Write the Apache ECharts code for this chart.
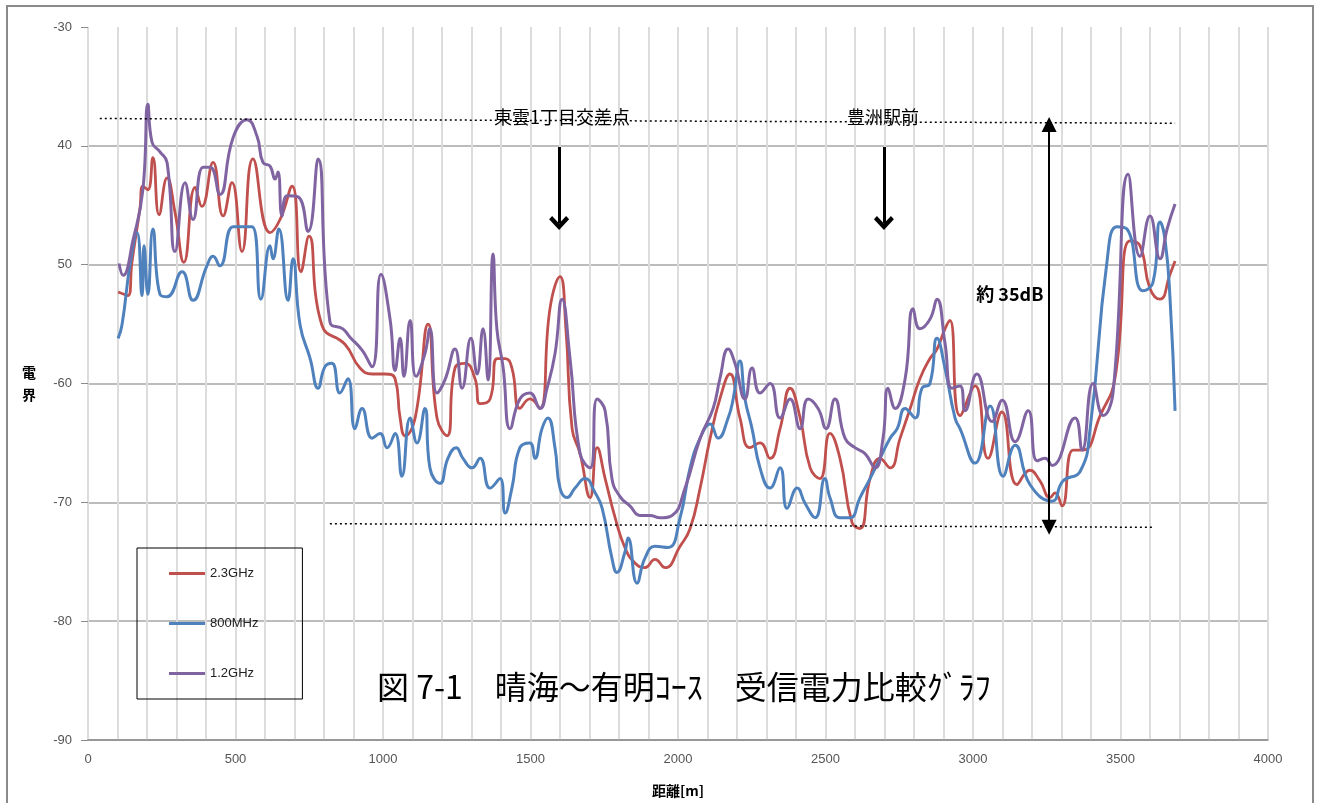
<!DOCTYPE html>
<html><head><meta charset="utf-8">
<script src="https://cdn.jsdelivr.net/npm/echarts@6/dist/echarts.min.js"></script>
<style>html,body{margin:0;padding:0;background:#fff}#c{width:1319px;height:803px}</style>
</head><body><div id="c"></div>
<script>
// Distance [m] / received level [dB] pairs
const s23 = [[102,-52.3],[136,-52.6],[149,-49.8],[176,-45.3],[186,-43.4],[203,-43.7],[220,-41],[241,-45.8],[268,-42.7],[295,-45.6],[325,-49.8],[363,-43.5],[386,-45.1],[424,-41.4],[458,-45.9],[488,-43.1],[522,-48.9],[559,-41.1],[617,-47.3],[651,-46.2],[692,-43.4],[722,-50.6],[749,-47.6],[793,-55.1],[871,-56.7],[922,-58.7],[963,-59.2],[1007,-59.2],[1041,-59.6],[1058,-62.9],[1075,-64.4],[1109,-62.9],[1153,-55],[1183,-62.9],[1217,-64.4],[1244,-58.7],[1278,-58.3],[1312,-59.6],[1329,-61.7],[1363,-61.3],[1387,-57.9],[1414,-57.9],[1437,-58.7],[1464,-62.1],[1498,-61.3],[1532,-62.1],[1566,-53.7],[1600,-51],[1620,-55.4],[1641,-63.8],[1668,-65.9],[1702,-69.6],[1726,-65.4],[1753,-68],[1787,-71.3],[1820,-73.8],[1854,-75.1],[1888,-75.5],[1922,-74.8],[1956,-75.5],[2007,-73.7],[2041,-72.2],[2075,-68.8],[2109,-64.6],[2142,-61.3],[2176,-59.2],[2210,-62.9],[2244,-65.4],[2278,-65],[2312,-66.3],[2346,-63.8],[2380,-60.4],[2414,-62.9],[2448,-67.1],[2481,-68],[2515,-64.2],[2549,-66.3],[2590,-71.7],[2617,-72.2],[2651,-68],[2685,-66.3],[2719,-67.1],[2753,-64.6],[2787,-62.1],[2820,-59.6],[2854,-57.9],[2878,-57.1],[2905,-55.4],[2922,-54.7],[2956,-62.7],[3007,-60.2],[3051,-66.3],[3098,-62.4],[3149,-68.5],[3193,-67.3],[3227,-68.2],[3261,-69.6],[3278,-69.2],[3302,-70.3],[3339,-65.6],[3373,-65.6],[3431,-62.7],[3481,-59.6],[3532,-48],[3566,-48.4],[3600,-52],[3634,-52.9],[3668,-50.8],[3685,-49.7]];
const s800 = [[102,-56.2],[115,-55.1],[142,-50.1],[166,-47.3],[183,-52.6],[190,-48.4],[203,-52.5],[220,-47],[244,-52.5],[268,-52.7],[319,-50.6],[356,-53],[403,-50.1],[424,-49.3],[447,-50.1],[492,-46.8],[525,-46.8],[556,-46.8],[586,-52.9],[617,-48.4],[627,-49.5],[647,-47],[678,-53],[695,-49.5],[719,-55.1],[753,-57.9],[780,-60.4],[803,-58.6],[827,-58.3],[854,-60.8],[881,-59.6],[905,-63.8],[929,-62.1],[963,-64.6],[990,-64.2],[1014,-65.4],[1041,-64.2],[1064,-67.8],[1092,-62.9],[1115,-65],[1142,-62.1],[1159,-67.1],[1193,-68.4],[1220,-66.3],[1248,-65.4],[1271,-66.3],[1302,-67.1],[1329,-66.3],[1363,-68.8],[1397,-68],[1414,-70.9],[1437,-68.8],[1464,-65.4],[1498,-65],[1515,-66.3],[1539,-63.8],[1559,-62.9],[1583,-65.4],[1600,-68.8],[1624,-69.6],[1651,-68.8],[1685,-68],[1719,-69.2],[1743,-70.5],[1776,-74.7],[1793,-75.9],[1820,-74.2],[1831,-73],[1861,-76.8],[1888,-74.7],[1922,-73.7],[1966,-73.8],[2007,-71.3],[2041,-67.1],[2075,-64.6],[2109,-63.4],[2136,-64.6],[2170,-62.9],[2187,-61.3],[2210,-58.1],[2227,-61.3],[2251,-63.8],[2278,-67.1],[2312,-68.8],[2346,-67.1],[2370,-70.5],[2404,-68.8],[2431,-70.1],[2465,-71.3],[2498,-68],[2515,-69.6],[2549,-71.3],[2583,-71.3],[2617,-69.6],[2651,-68],[2685,-66.3],[2719,-64.6],[2743,-63.8],[2770,-62.1],[2804,-62.9],[2827,-60.4],[2854,-60],[2878,-56.2],[2905,-58.7],[2939,-62.9],[2956,-63.8],[3007,-66.7],[3058,-61.9],[3102,-67.8],[3143,-65.2],[3193,-68.5],[3268,-69.9],[3305,-68.2],[3363,-67.4],[3397,-63.8],[3454,-49.8],[3488,-46.8],[3522,-47],[3576,-52.2],[3610,-51.5],[3634,-46.4],[3651,-47.9],[3668,-52.9],[3685,-62.3]];
const s12 = [[105,-49.9],[119,-50.9],[153,-47.9],[186,-43.7],[203,-36.5],[217,-39.7],[244,-40.5],[268,-41.4],[295,-48.9],[329,-43.1],[356,-46.2],[390,-41.8],[414,-41.8],[447,-44.1],[492,-39.3],[539,-37.8],[573,-39.2],[593,-41.4],[617,-41.7],[634,-42.8],[644,-42.2],[658,-45.9],[675,-44.2],[712,-44.3],[746,-47.2],[780,-41.1],[820,-54.8],[864,-55.4],[888,-56.1],[929,-57.2],[963,-58.6],[993,-50.8],[1024,-54.6],[1041,-58.9],[1058,-56.2],[1071,-59.4],[1092,-54.7],[1112,-59.4],[1142,-57.5],[1159,-55.4],[1183,-60.8],[1210,-59.7],[1244,-57.1],[1268,-60.4],[1298,-56.2],[1319,-59.2],[1339,-55.4],[1356,-59.7],[1373,-49.1],[1386,-55.4],[1407,-58.6],[1431,-63.8],[1464,-61.3],[1498,-60.8],[1532,-62.1],[1556,-60.4],[1583,-57.5],[1607,-52.9],[1634,-57.9],[1668,-65.9],[1702,-67.1],[1726,-61.3],[1753,-62.3],[1776,-68],[1803,-69.5],[1837,-70.3],[1871,-71.1],[1905,-71.1],[1939,-71.3],[1980,-71.1],[2024,-68.8],[2075,-64.6],[2119,-62.1],[2142,-59.6],[2170,-57.1],[2193,-58.3],[2227,-61.3],[2251,-58.7],[2278,-60.8],[2312,-60],[2346,-62.9],[2380,-61.3],[2414,-63.8],[2441,-61.3],[2475,-62.1],[2502,-63.8],[2532,-61.3],[2566,-64.6],[2600,-65.4],[2634,-65.9],[2668,-67.1],[2695,-64.6],[2712,-60.4],[2736,-62.1],[2770,-59.6],[2797,-53.7],[2820,-55.4],[2854,-54.6],[2878,-52.9],[2905,-56.6],[2929,-60.4],[2956,-60.2],[2973,-62.3],[3013,-59.2],[3065,-63.2],[3099,-61.4],[3143,-64.9],[3187,-62.3],[3217,-66.5],[3244,-66.3],[3268,-66.9],[3346,-62.9],[3370,-65.6],[3407,-60],[3441,-62.7],[3475,-60.7],[3526,-42.4],[3566,-49.3],[3600,-45.9],[3634,-49.5],[3658,-47],[3685,-44.9]];
const seriesNames = ['2.3GHz','800MHz','1.2GHz'];
const seriesColors = ['#C0504D','#4F81BD','#8064A2'];
const yTickValues = [-90,-80,-70,-60,-50,-40,-30];
const yTickLabels = ['-90','-80','-70','-60','50','40','-30'];
const xTickLabels = ['0','500','1000','1500','2000','2500','3000','3500','4000'];
const titleText = '図 7-1　晴海～有明ｺｰｽ　受信電力比較ｸﾞﾗﾌ';
const annoLabels = ['東雲1丁目交差点','豊洲駅前','約 35dB'];

const chart = echarts.init(document.getElementById('c'), null, {renderer:'canvas'});
const jp = '"Noto Sans CJK JP", sans-serif';
const chevron = 'path://M0 10 L10 0 L20 10 L17 13 L10 6 L3 13 Z';
const option = {
  animation:false,
  backgroundColor:'#fff',
  title:{text:titleText,left:372,top:666,textStyle:{fontFamily:jp,fontSize:32,fontWeight:'normal',color:'#000'}},
  legend:{
    data:seriesNames, orient:'vertical', left:137, top:548,
    padding:[19,44,19,32], itemGap:37, itemWidth:36, itemHeight:3, icon:'rect',
    borderColor:'#000', borderWidth:1,
    textStyle:{fontSize:13,color:'#222',fontFamily:'"Liberation Sans", sans-serif'}
  },
  grid:{left:88,right:51,top:27,bottom:60},
  xAxis:{
    type:'value', min:0, max:4000, interval:500,
    name:'距離[m]', nameLocation:'middle', nameGap:44,
    nameTextStyle:{fontFamily:jp,fontSize:14,fontWeight:'bold',color:'#000'},
    axisLine:{lineStyle:{color:'#8c8c8c',width:1.5}},
    axisTick:{show:false},
    axisLabel:{color:'#555',fontSize:13,margin:13,fontFamily:'"Liberation Sans", sans-serif',
      formatter:(v)=>xTickLabels[Math.round(v/500)]},
    splitLine:{show:true,lineStyle:{color:'#dcdcdc',width:2}},
    minorTick:{show:false,splitNumber:5},
    minorSplitLine:{show:true,lineStyle:{color:'#dcdcdc',width:2}}
  },
  yAxis:{
    type:'value', min:-90, max:-30, interval:10,
    name:'電\n界', nameLocation:'middle', nameGap:52, nameRotate:0,
    nameTextStyle:{fontFamily:jp,fontSize:14,fontWeight:'bold',color:'#000',lineHeight:22},
    axisLine:{show:false},
    axisTick:{show:true,length:7,lineStyle:{color:'#8c8c8c'}},
    axisLabel:{color:'#555',fontSize:13,margin:16,fontFamily:'"Liberation Sans", sans-serif',
      formatter:(v)=>yTickLabels[yTickValues.indexOf(v)]},
    splitLine:{show:true,lineStyle:{color:['#a6a6a6','#a6a6a6','#a6a6a6','#a6a6a6','#a6a6a6','#a6a6a6','rgba(0,0,0,0)'],width:1.5}}
  },
  graphic:[{type:'rect',shape:{x:7,y:6,width:1306,height:820},style:{fill:'none',stroke:'#8a8a8a',lineWidth:2},silent:true,z:-1}],
  series:[
    {name:seriesNames[0],type:'line',data:s23,showSymbol:false,smooth:0.5,lineStyle:{width:2.8,color:seriesColors[0]},itemStyle:{color:seriesColors[0]}},
    {name:seriesNames[1],type:'line',data:s800,showSymbol:false,smooth:0.5,lineStyle:{width:3,color:seriesColors[1]},itemStyle:{color:seriesColors[1]}},
    {name:seriesNames[2],type:'line',data:s12,showSymbol:false,smooth:0.5,lineStyle:{width:3,color:seriesColors[2]},itemStyle:{color:seriesColors[2]},
      markLine:{
        silent:true, symbol:'none', label:{show:false},
        data:[
          [{coord:[40,-37.7],lineStyle:{type:[2,3],color:'#000',width:1.5}},{coord:[3685,-38.1]}],
          [{coord:[820,-71.8],lineStyle:{type:[2,3],color:'#000',width:1.5}},{coord:[3610,-72.1]}],
          [{coord:[1597,-40.1],symbol:'none',lineStyle:{type:'solid',color:'#000',width:3}},{coord:[1597,-46.5],symbol:chevron,symbolSize:[20,14]}],
          [{coord:[2698,-40.1],symbol:'none',lineStyle:{type:'solid',color:'#000',width:3}},{coord:[2698,-46.5],symbol:chevron,symbolSize:[20,14]}],
          [{coord:[3258,-38.2],symbol:'triangle',symbolSize:[15,15],lineStyle:{type:'solid',color:'#000',width:2}},{coord:[3258,-72.1],symbol:'triangle',symbolSize:[15,15]}]
        ]
      },
      markPoint:{
        silent:true, symbol:'circle', symbolSize:1, itemStyle:{color:'rgba(0,0,0,0)'},
        label:{show:true,position:'inside',color:'#000',fontFamily:jp,fontSize:18},
        data:[
          {coord:[1607,-37.6],label:{formatter:annoLabels[0]}},
          {coord:[2695,-37.6],label:{formatter:annoLabels[1]}},
          {coord:[3125,-52.5],label:{formatter:annoLabels[2],fontWeight:'bold'}}
        ]
      }
    }
  ]
};
chart.setOption(option);
</script></body></html>
